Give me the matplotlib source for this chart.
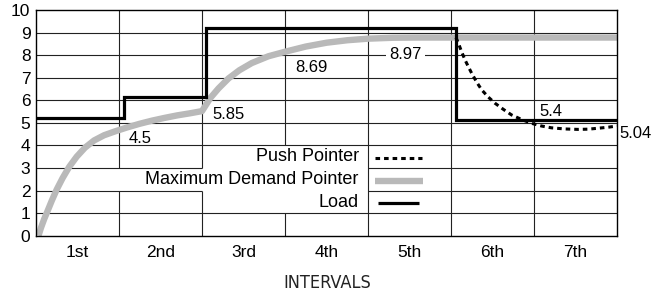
import matplotlib
matplotlib.use("Agg")
import matplotlib.pyplot as plt
import numpy as np

plt.rcParams['font.family'] = ['Liberation Sans', 'DejaVu Sans']

# ---- data ----
intervals = ["1st", "2nd", "3rd", "4th", "5th", "6th", "7th"]
y_ticks = list(range(0, 11))

load_edges = [0, 1.055, 2.05, 5.06, 7]
load_levels = [5.2, 6.13, 9.22, 5.13]

md_x = [0.03, 0.06, 0.10, 0.14, 0.19, 0.25, 0.32, 0.40, 0.49, 0.59, 0.70, 0.82,
        0.95, 1.10, 1.25, 1.40, 1.55, 1.70, 1.85, 2.00,
        2.04, 2.10, 2.20, 2.32, 2.45, 2.60, 2.80, 3.00, 3.25, 3.50, 3.75, 4.00,
        4.30, 4.60, 7.00]
md_y = [0.0, 0.35, 0.75, 1.1, 1.55, 2.05, 2.55, 3.05, 3.5, 3.9, 4.22, 4.45,
        4.62, 4.8, 4.96, 5.1, 5.22, 5.33, 5.42, 5.52,
        5.75, 6.1, 6.53, 6.97, 7.33, 7.65, 7.95, 8.15, 8.38, 8.55, 8.66, 8.73,
        8.77, 8.78, 8.78]

pp_x = [5.06, 5.09, 5.13, 5.17, 5.21, 5.25, 5.31, 5.37, 5.45, 5.53, 5.63, 5.73,
        5.85, 5.97, 6.09, 6.21, 6.37, 6.53, 6.65, 6.77, 6.90, 7.00]
pp_y = [8.78, 8.52, 8.13, 7.78, 7.48, 7.19, 6.8, 6.46, 6.14, 5.87, 5.6, 5.35,
        5.15, 4.98, 4.86, 4.78, 4.73, 4.71, 4.72, 4.76, 4.81, 4.86]

value_labels = ["4.5", "5.85", "8.69", "8.97", "5.4", "5.04"]
value_pos = [(1.12, 4.3), (2.12, 5.39), (3.12, 7.44), (4.45, 8.05), (6.06, 5.5), (7.03, 4.54)]

legend_labels = ["Push Pointer", "Maximum Demand Pointer", "Load"]
legend_y = [3.49, 2.47, 1.49]

GRAY = "#b9b9b9"

fig = plt.figure(figsize=(6.58, 2.96), dpi=100)
ax = fig.add_axes([36/658, 1-235.7/296, (617-36)/658, (235.7-10)/296])
ax.set_xlim(0, 7)
ax.set_ylim(0, 10)

# grid (with gaps behind legend)
gc = "#222222"
glw = 0.8
for xv in range(1, 7):
    if xv in (1, 2):
        segs = [(0, 2), (3, 10)]
    elif xv == 3:
        segs = [(0, 1), (4, 10)]
    else:
        segs = [(0, 10)]
    for a, b in segs:
        ax.vlines(xv, a, b, color=gc, lw=glw, zorder=1)
for yv in range(1, 10):
    if yv in (2, 3):
        segs = [(0, 2), (4, 7)]
    else:
        segs = [(0, 7)]
    for a, b in segs:
        ax.hlines(yv, a, b, color=gc, lw=glw, zorder=1)

# series
ax.plot(md_x, md_y, color=GRAY, lw=4.6, solid_capstyle='butt', solid_joinstyle='round', zorder=3)
ax.stairs(load_levels, load_edges, baseline=None, color='black', lw=2.3, zorder=4)
ax.plot(pp_x, pp_y, color='black', lw=2.2, linestyle=(0, (1.5, 1.3)), zorder=5, clip_on=False)

# value labels
for lab, (xx, yy) in zip(value_labels, value_pos):
    if lab == "8.97":
        ax.text(xx, yy, lab, ha='center', va='center', fontsize=12, zorder=6,
                bbox=dict(facecolor='white', edgecolor='none', pad=2.5))
    else:
        ax.text(xx, yy, lab, ha='left', va='center', fontsize=12, zorder=6, clip_on=False)

# legend
for lab, yy in zip(legend_labels, legend_y):
    ax.text(3.89, yy, lab, ha='right', va='center', fontsize=13, zorder=6)
ax.plot([4.08, 4.65], [3.43, 3.43], color='black', lw=2.2, linestyle=(0, (1.5, 1.3)), zorder=5)
ax.plot([4.08, 4.66], [2.42, 2.42], color=GRAY, lw=4.6, solid_capstyle='butt', zorder=5)
ax.plot([4.12, 4.61], [1.46, 1.46], color='black', lw=2.3, solid_capstyle='butt', zorder=5)

# axes styling
for s in ax.spines.values():
    s.set_linewidth(1.0)
    s.set_color('black')
    s.set_zorder(7)
ax.set_yticks(y_ticks)
ax.set_yticklabels([str(v) for v in y_ticks])
ax.set_xticks(np.arange(len(intervals)) + 0.5)
ax.set_xticklabels(intervals)
ax.tick_params(axis='both', length=0, labelsize=12.5)
ax.tick_params(axis='y', pad=4)
ax.tick_params(axis='x', pad=7)

fig.text(327/658, 1-283/296, "INTERVALS", ha='center', va='center', fontsize=13,
         family=['Liberation Sans Narrow', 'DejaVu Sans'], fontstretch='condensed',
         color='#222222')

fig.savefig("out.png", dpi=100)
